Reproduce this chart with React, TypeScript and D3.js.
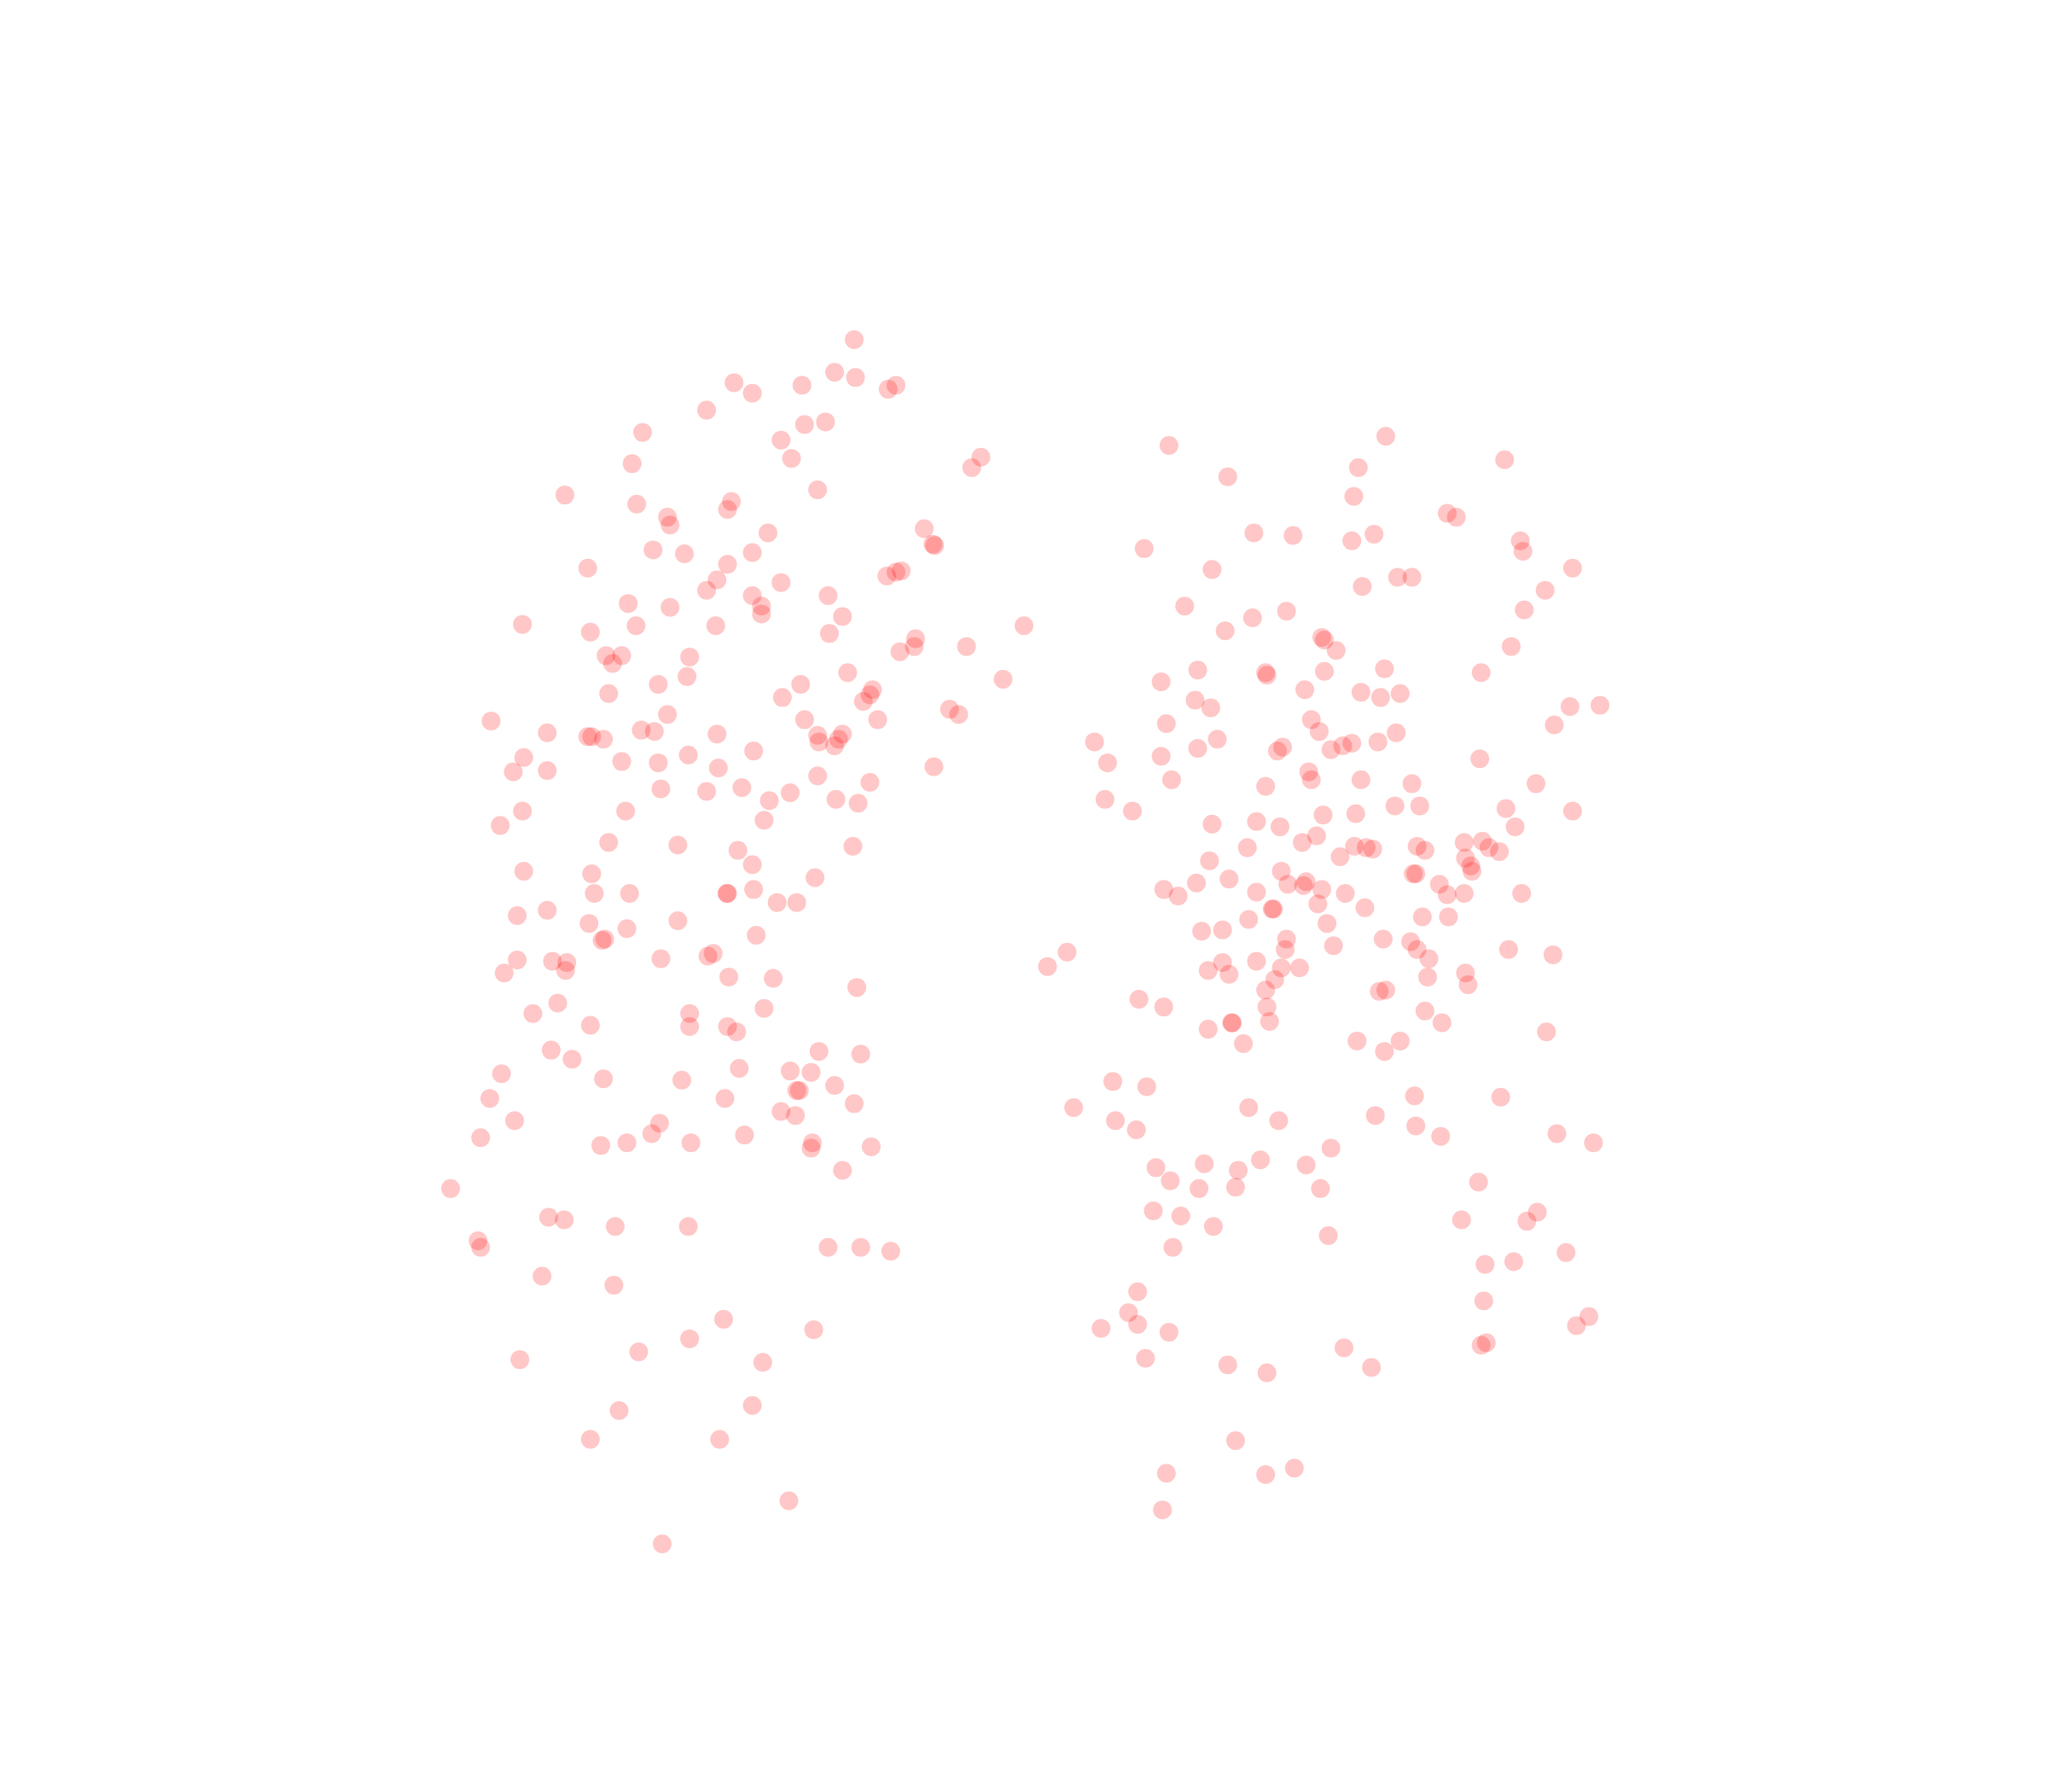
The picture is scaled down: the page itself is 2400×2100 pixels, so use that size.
import { useRef, useEffect } from "react"
import * as d3 from "d3"

// values, on a 1568 x 1372 grid
const leftGroup = [
  [654,260],[562,293],[576,301],[614,295],[639,285],[655,289],[680,298],[686,295],[541,314],[492,331],
  [616,325],[632,323],[598,337],[606,351],[484,355],[744,358],[751,350],[432.5,379],[626,375],[487.5,386],
  [560,384],[557,390],[511,396],[513,402],[588,408],[707.6,404.8],[714.3,416.6],[715.6,417.7],[500,421],[524,424],
  [576,423],[450,435],[557,432],[549,444],[541,452],[598,446],[679,441],[686,438],[690,437],[481,462],
  [576,456],[634,456],[513,465],[583,464],[583,470],[645,472],[400,478],[452,484],[487,479],[548,479],
  [635,485],[784,479],[701,489],[700,495],[689,499],[740,495],[464,502],[476,502],[469,508],[528,503],
  [526,518],[649,515],[504,524],[613,524],[768,520],[466,531],[599,534],[668,528],[666,532],[661,537],
  [727,543],[734,547],[511,547],[376,552],[616,551],[672,551],[419,561],[450,564],[453,564],[462,566],
  [491,559],[501,560],[549,562],[626,563],[627,568],[639,571],[642,566],[645,562],[577,575],[401,580],
  [393,591],[419,590],[476,583],[504,584],[527,578],[550,588],[715,587],[626,594],[666,599],[506,604],
  [541,606],[568,603],[589,613],[605,607],[640,612],[657,615],[400,621],[479,621],[585,628],[383,632],
  [466,645],[519,647],[565,651],[653,648],[576,662],[401,667],[453,669],[624,672],[455,684],[482,684],
  [556.5,684],[557,684],[577,681],[595,691],[610,691],[396,701],[419,697],[451,707],[480,711],[519,705],
  [579,716],[461,720],[463,719],[396,735],[423,736],[434,737],[433,743],[386,745],[506,734],[542,732],
  [546,730],[558,748],[592,749],[656,756],[427,768],[408,776],[528,776],[585,772],[452,785],[528,786],
  [557,786],[564,790],[422,804],[438,811],[627,805],[659,807],[384,822],[462,826],[522,827],[566,818],
  [605,820],[621,821],[639,831],[610,835],[612,835],[375,841],[555,841],[654,845],[394,858],[598,851],
  [609,854],[505,860],[368,871],[460,877],[480,875],[499,868],[529,875],[570,869],[622,875],[621,879],
  [667,878],[645,896],[345,910],[420,932],[432,934],[471,939],[527,939],[366,950],[368,955],[634,955],
  [659,955],[682,958],[415,977],[470,984],[554,1010],[528,1025],[623,1018],[489,1035],[398,1041],[584,1043],
  [576,1076],[474,1080],[452,1102],[551,1102],[604,1149],[507,1182],
]

const rightGroup = [
  [895,341],[1061,334],[940,365],[1040,358],[1152,352],[1036.5,380],[1108,393],[1115,396],[960,408],[990,410],
  [1035,414],[1052,409],[1164,414],[1166,422],[876,420],[928,436],[1204,435],[1043,449],[1070,442],[1081,442],
  [1183,452],[907,464],[959,473],[985,468],[1167,467],[938,483],[1012,488],[1014,490],[1023,498],[1157,495],
  [917,513],[969,515],[970,517],[1014,514],[1060,512],[1134,515],[889,522],[999,528],[1042,530],[1057,534],
  [1072,531],[915,536],[927,542],[1202,541],[1225,540],[893,554],[1004,551],[1010,560],[1190,555],[838,568],
  [932,566],[917,573],[978,575],[982,572],[1019,574],[1028,571],[1035,569],[1055,568],[1069,561],[848,584],
  [889,579],[1133,581],[897,597],[1002,591],[1004,597],[1042,597],[1081,600],[969,602],[1176,600],[846,612],
  [867,621],[1013,624],[1038,623],[1068,617],[1087,617],[1153,619],[1204,621],[928,631],[962,629],[980,633],
  [1160,633],[1008,640],[955,649],[997,645],[1037,648],[1046,649],[1051,650],[1026,656],[1085,648],[1091,651],
  [1121,645],[1135,644],[1140,649],[1148,652],[926,659],[1122,657],[981,667],[1082,669],[1084,669],[1126,663],
  [1127,667],[916,676],[941,673],[986,677],[998,678],[1000,675],[1102,677],[891,681],[902,686],[962,683],
  [1012,681],[1030,684],[1108,685],[1121,684],[1165,684],[974,696],[975,696],[1009,692],[1045,695],[956,704],
  [1016,707],[1089,702],[1109,702],[920,713],[936,712],[985,719],[1059,719],[1080,721],[817,729],[984,727],
  [1021,724],[1085,727],[1155,727],[1189,731],[1094,734],[802,740],[936,737],[962,736],[925,743],[941,746],
  [981,741],[995,741],[1093,748],[1122,745],[976,750],[1124,754],[969,758],[1056,759],[1061,758],[872,765],
  [891,771],[970,771],[1091,774],[925,788],[943,783],[943.5,783.2],[972,782],[1104,783],[1184,790],[952,799],
  [1039,797],[1072,797],[1060,805],[852,828],[878,832],[1083,839],[1149,840],[822,848],[956,848],[854,858],
  [979,858],[1053,854],[870,865],[1084,862],[1103,870],[1192,868],[1220,875],[1019,879],[885,894],[922,891],
  [948,896],[965,888],[1000,892],[896,904],[1132,905],[918,910],[946,909],[1011,910],[883,927],[904,931],
  [1119,934],[1177,928],[1169,935],[929,939],[1017,946],[898,955],[1199,959],[1137,968],[1159,966],[871,989],
  [1136,996],[864,1005],[843,1017],[871,1014],[895,1020],[1207,1015],[1216.5,1008],[1134,1030],[1138,1028],[1029,1032],
  [877,1040],[940,1045],[970,1051],[1050,1047],[946,1103],[893,1128],[969,1129],[991,1124],[890,1156],
]

export default function App() {
  const svgRef = useRef<SVGSVGElement>(null)

  function drawChart() {
    const width = 2400
    const height = 2100

    const xScale = d3.scaleLinear().domain([0, 1568]).range([0, width])
    const yScale = d3.scaleLinear().domain([0, 1372]).range([0, height])

    const svg = d3.select(svgRef.current).attr("width", width).attr("height", height)
    svg.selectAll("*").remove()

    svg
      .append("g")
      .selectAll("circle")
      .data([...leftGroup, ...rightGroup])
      .enter()
      .append("circle")
      .attr("cx", (d) => xScale(d[0]))
      .attr("cy", (d) => yScale(d[1]))
      .attr("r", 11)
      .attr("fill", "#ff0000")
      .attr("fill-opacity", 0.22)
  }

  useEffect(() => {
    drawChart()
  }, [svgRef])

  return <svg ref={svgRef} style={{ position: "absolute", left: 0, top: 0, display: "block" }}></svg>
}
